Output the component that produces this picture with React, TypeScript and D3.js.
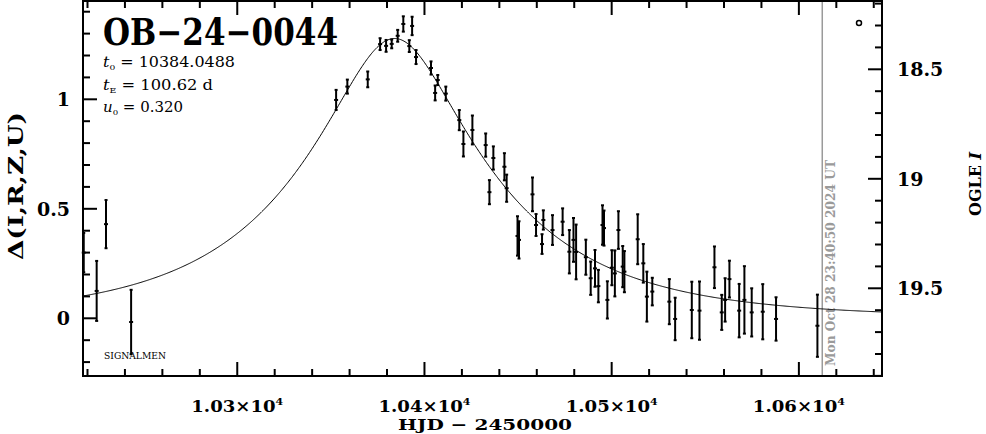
import React from "react";
import * as d3 from "d3";

// ---- data ----
const HJD = [
  10218.0, 10224.9, 10229.9, 10243.3,
  10352.8, 10358.8, 10369.7,
  10376.3, 10379.5, 10382.5, 10385.7, 10388.7, 10393.4, 10391.9, 10395.5,
  10403.5, 10407.1, 10405.7, 10411.4, 10418.6, 10420.8, 10425.6, 10432.7,
  10436.8, 10434.7, 10442.7, 10443.9, 10449.7, 10450.5, 10457.7, 10459.6,
  10462.8, 10463.5, 10468.4, 10473.8, 10477.4, 10479.6, 10481.0, 10486.2,
  10488.8, 10491.1, 10492.9, 10495.1, 10495.9, 10497.7, 10500.1, 10501.7,
  10503.6, 10505.9, 10506.8, 10513.9, 10516.9, 10518.8, 10521.7, 10530.8,
  10533.9, 10542.8, 10546.9, 10554.9, 10558.8, 10560.6, 10562.9, 10568.1,
  10570.9, 10574.8, 10580.7, 10587.8, 10609.9,
];
const DELTA = [
  0.30, 0.125, 0.43, -0.017,
  0.997, 1.058, 1.091,
  1.252, 1.244, 1.253, 1.29, 1.344, 1.335, 1.243, 1.193,
  1.143, 1.088, 1.029, 1.026, 0.905, 0.796, 0.86, 0.791,
  0.732, 0.576, 0.692, 0.594, 0.376, 0.358, 0.566, 0.426,
  0.339, 0.449, 0.403, 0.441, 0.304, 0.358, 0.303, 0.279,
  0.183, 0.228, 0.147, 0.426, 0.412, 0.084, 0.231, 0.205,
  0.403, 0.236, 0.213, 0.361, 0.251, 0.099, 0.122, 0.076,
  -0.003, 0.038, 0.035, 0.233, 0.027, 0.084, 0.179, 0.035,
  0.084, 0.027, 0.03, -0.003, -0.034,
];
const ERR = [
  0.09, 0.137, 0.11, 0.147,
  0.046, 0.032, 0.036,
  0.027, 0.027, 0.02, 0.027, 0.035, 0.042, 0.027, 0.032,
  0.03, 0.023, 0.034, 0.032, 0.046, 0.057, 0.066, 0.053,
  0.053, 0.055, 0.062, 0.062, 0.09, 0.085, 0.077, 0.05,
  0.045, 0.044, 0.068, 0.061, 0.099, 0.1, 0.125, 0.08,
  0.076, 0.084, 0.074, 0.09, 0.08, 0.085, 0.08, 0.105,
  0.086, 0.094, 0.094, 0.114, 0.088, 0.114, 0.063, 0.103,
  0.097, 0.129, 0.133, 0.095, 0.08, 0.099, 0.084, 0.122,
  0.154, 0.11, 0.126, 0.099, 0.142,
];

// fitted model parameters (shown on the chart)
const T0 = 10384.0488;
const TE = 100.62;
const U0 = 0.32;

const X_TICKS = [10300, 10400, 10500, 10600];
const X_TICK_LABELS = ["1.03", "1.04", "1.05", "1.06"];
const Y_TICKS = [0, 0.5, 1];
const Y_TICK_LABELS = ["0", "0.5", "1"];
const I_TICKS = [18.5, 19, 19.5];
const I_TICK_LABELS = ["18.5", "19", "19.5"];
const I_BASE = 19.637;
const NOW_HJD = 10612.49;
const NOW_LABEL = "Mon Oct 28 23:40:50 2024 UT";

const W = 986;
const H = 434;
const L = 83;
const R = 882;
const T = 1;
const B = 376;

const X_DOMAIN: [number, number] = [10217.6, 10644.4];
const Y_DOMAIN: [number, number] = [-0.2635, 1.4489];

const FONT = "'DejaVu Serif', serif";

function magnification(t: number) {
  const tau = (t - T0) / TE;
  const u = Math.sqrt(U0 * U0 + tau * tau);
  return (u * u + 2) / (u * Math.sqrt(u * u + 4));
}

export default function App() {
  const x = d3.scaleLinear().domain(X_DOMAIN).range([L, R]);
  const y = d3.scaleLinear().domain(Y_DOMAIN).range([B, T]);
  const yI = d3
    .scaleLinear()
    .domain([I_BASE - Y_DOMAIN[1], I_BASE - Y_DOMAIN[0]])
    .range([T, B]);

  const modelT = d3.range(X_DOMAIN[0], X_DOMAIN[1] + 0.25, 0.5);
  const line = d3
    .line<number>()
    .x((t) => x(t))
    .y((t) => y(2.5 * Math.log10(magnification(t))));

  const xMinor = d3.range(10220, 10645, 20).filter((t) => !X_TICKS.includes(t));
  const yMinor = d3
    .range(-0.2, 1.45, 0.1)
    .map((v) => Math.round(v * 10) / 10)
    .filter((v) => !Y_TICKS.some((m) => Math.abs(m - v) < 1e-6));
  const iMinor = d3
    .range(18.2, 19.95, 0.1)
    .map((v) => Math.round(v * 10) / 10)
    .filter((v) => !I_TICKS.some((m) => Math.abs(m - v) < 1e-6));

  const MAJ = 14;
  const MIN = 7;
  const sw = 2;

  return (
    <svg
      width={W}
      height={H}
      style={{ position: "absolute", left: 0, top: 0, background: "#fff" }}
      fontFamily={FONT}
    >
      <rect x={0} y={0} width={W} height={H} fill="#fff" />

      {/* now line */}
      <line x1={x(NOW_HJD)} x2={x(NOW_HJD)} y1={T} y2={B} stroke="#9a9a9a" strokeWidth={1.5} />
      <text
        transform={`translate(${x(NOW_HJD) + 13},${B - 10}) rotate(-90)`}
        fontSize={12}
        fontWeight="bold"
        fill="#9a9a9a"
        textLength={206}
        lengthAdjust="spacingAndGlyphs"
      >
        {NOW_LABEL}
      </text>

      {/* model */}
      <path d={line(modelT) || ""} fill="none" stroke="#000" strokeWidth={1} />

      {/* data points */}
      {HJD.map((t, i) => {
        const cx = x(t);
        const y1 = y(DELTA[i] + ERR[i]);
        const y2 = y(DELTA[i] - ERR[i]);
        const cy = y(DELTA[i]);
        return (
          <g key={i} stroke="#000" strokeWidth={2}>
            <line x1={cx} x2={cx} y1={y1} y2={y2} />
            <line x1={cx - 1.5} x2={cx + 1.5} y1={y1} y2={y1} />
            <line x1={cx - 1.5} x2={cx + 1.5} y1={y2} y2={y2} />
            <line x1={cx - 2} x2={cx + 2} y1={cy} y2={cy} />
          </g>
        );
      })}

      {/* frame */}
      <rect x={L} y={T} width={R - L} height={B - T} fill="none" stroke="#000" strokeWidth={sw} />

      {/* x ticks (bottom and top) */}
      {X_TICKS.map((t) => (
        <g key={"xt" + t} stroke="#000" strokeWidth={sw}>
          <line x1={x(t)} x2={x(t)} y1={B} y2={B - MAJ} />
          <line x1={x(t)} x2={x(t)} y1={T} y2={T + MAJ} />
        </g>
      ))}
      {xMinor.map((t) => (
        <g key={"xm" + t} stroke="#000" strokeWidth={sw}>
          <line x1={x(t)} x2={x(t)} y1={B} y2={B - MIN} />
          <line x1={x(t)} x2={x(t)} y1={T} y2={T + MIN} />
        </g>
      ))}
      {X_TICK_LABELS.map((lab, i) => (
        <text
          key={"xl" + lab}
          x={x(X_TICKS[i])}
          y={412}
          textAnchor="middle"
          fontSize={16.5}
          fontWeight="bold"
          textLength={92}
          lengthAdjust="spacingAndGlyphs"
        >
          {lab}×10
          <tspan fontSize={10} dy={-7}>
            4
          </tspan>
        </text>
      ))}

      {/* left ticks */}
      {Y_TICKS.map((v, i) => (
        <g key={"yt" + v}>
          <line x1={L} x2={L + MAJ} y1={y(v)} y2={y(v)} stroke="#000" strokeWidth={sw} />
          <text x={70} y={y(v) + 7} textAnchor="end" fontSize={19} fontWeight="bold">
            {Y_TICK_LABELS[i]}
          </text>
        </g>
      ))}
      {yMinor.map((v) => (
        <line key={"ym" + v} x1={L} x2={L + MIN} y1={y(v)} y2={y(v)} stroke="#000" strokeWidth={sw} />
      ))}

      {/* right ticks (OGLE I) */}
      {I_TICKS.map((v, i) => (
        <g key={"it" + v}>
          <line x1={R} x2={R - MAJ} y1={yI(v)} y2={yI(v)} stroke="#000" strokeWidth={sw} />
          <text x={897} y={yI(v) + 7} textAnchor="start" fontSize={19} fontWeight="bold">
            {I_TICK_LABELS[i]}
          </text>
        </g>
      ))}
      {iMinor.map((v) => (
        <line key={"im" + v} x1={R} x2={R - MIN} y1={yI(v)} y2={yI(v)} stroke="#000" strokeWidth={sw} />
      ))}

      {/* axis titles */}
      <text x={485} y={429.5} textAnchor="middle" fontSize={15.5} fontWeight="bold" textLength={174} lengthAdjust="spacingAndGlyphs">
        HJD − 2450000
      </text>
      <text
        transform="translate(23,186) rotate(-90)"
        textAnchor="middle"
        fontSize={20}
        fontWeight="bold"
        textLength={148}
        lengthAdjust="spacingAndGlyphs"
      >
        Δ(I,R,Z,U)
      </text>
      <text
        transform="translate(981,184) rotate(-90)"
        textAnchor="middle"
        fontSize={17}
        fontWeight="bold"
        textLength={64}
        lengthAdjust="spacingAndGlyphs"
      >
        OGLE <tspan fontStyle="italic">I</tspan>
      </text>

      {/* title and parameters */}
      <text x={103} y={45} fontSize={37} fontWeight="bold" textLength={235} lengthAdjust="spacingAndGlyphs">
        OB−24−0044
      </text>
      <text x={103} y={67} fontSize={14} textLength={132} lengthAdjust="spacingAndGlyphs">
        <tspan fontStyle="italic">t</tspan>
        <tspan fontSize={8} dy={3}>0</tspan>
        <tspan dy={-3}> = {T0.toFixed(4)}</tspan>
      </text>
      <text x={103} y={89.5} fontSize={14} textLength={110} lengthAdjust="spacingAndGlyphs">
        <tspan fontStyle="italic">t</tspan>
        <tspan fontSize={8} dy={3}>E</tspan>
        <tspan dy={-3}> = {TE.toFixed(2)} d</tspan>
      </text>
      <text x={103} y={112} fontSize={14} textLength={80} lengthAdjust="spacingAndGlyphs">
        <tspan fontStyle="italic">u</tspan>
        <tspan fontSize={8} dy={3}>0</tspan>
        <tspan dy={-3}> = {U0.toFixed(3)}</tspan>
      </text>
      <text x={104} y={359} fontSize={10} textLength={62} lengthAdjust="spacingAndGlyphs">
        SIGNALMEN
      </text>

      {/* small circle marker top right */}
      <circle cx={859} cy={23} r={2.5} fill="#fff" stroke="#000" strokeWidth={1.5} />
    </svg>
  );
}
